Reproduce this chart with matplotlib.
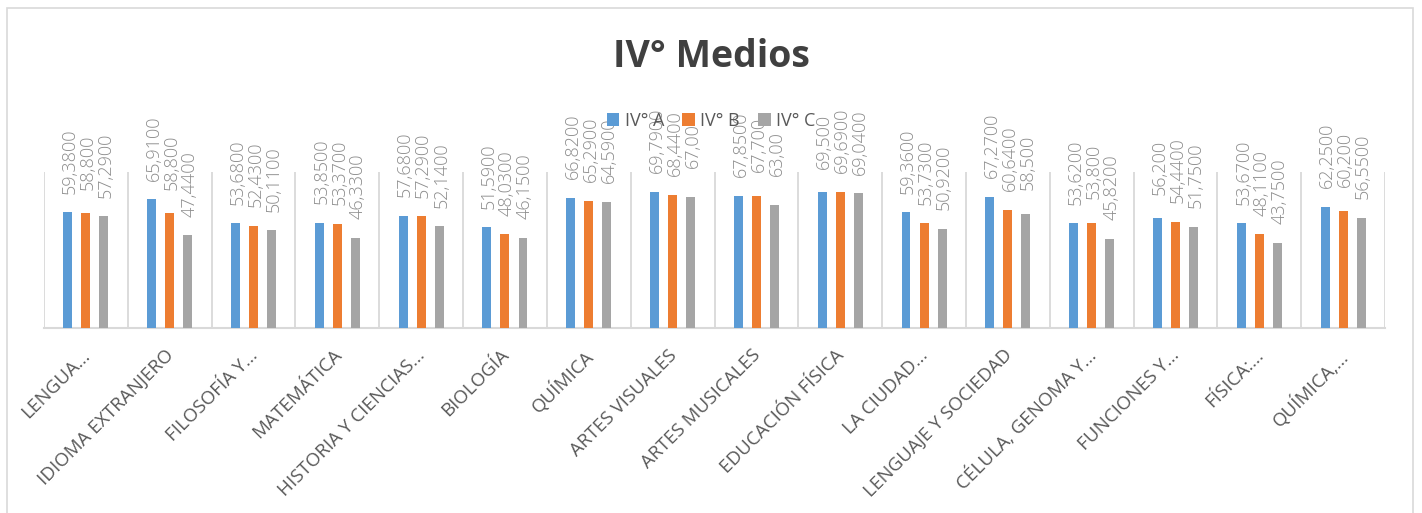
import numpy as np
import matplotlib
matplotlib.use("Agg")
import matplotlib.pyplot as plt
import matplotlib.transforms as mtransforms
from matplotlib.patches import Rectangle

# Data
subjects = [
    "LENGUA...", "IDIOMA EXTRANJERO", "FILOSOFÍA Y...", "MATEMÁTICA",
    "HISTORIA Y CIENCIAS...", "BIOLOGÍA", "QUÍMICA", "ARTES VISUALES",
    "ARTES MUSICALES", "EDUCACIÓN FÍSICA", "LA CIUDAD...", "LENGUAJE Y SOCIEDAD",
    "CÉLULA, GENOMA Y...", "FUNCIONES Y...", "FÍSICA:...", "QUÍMICA,...",
]
series_names = ["IV° A", "IV° B", "IV° C"]

iv_a = [59.38, 65.91, 53.68, 53.85, 57.68, 51.59, 66.82, 69.79,
        67.85, 69.50, 59.36, 67.27, 53.62, 56.20, 53.67, 62.25]
iv_b = [58.80, 58.80, 52.43, 53.37, 57.29, 48.03, 65.29, 68.44,
        67.70, 69.69, 53.73, 60.64, 53.80, 54.44, 48.11, 60.20]
iv_c = [57.29, 47.44, 50.11, 46.33, 52.14, 46.15, 64.59, 67.00,
        63.00, 69.04, 50.92, 58.50, 45.82, 51.75, 43.75, 56.55]

# data labels exactly as printed on the chart
labels_a = ["59,3800", "65,9100", "53,6800", "53,8500", "57,6800", "51,5900", "66,8200", "69,7900",
            "67,8500", "69,500", "59,3600", "67,2700", "53,6200", "56,200", "53,6700", "62,2500"]
labels_b = ["58,800", "58,800", "52,4300", "53,3700", "57,2900", "48,0300", "65,2900", "68,4400",
            "67,700", "69,6900", "53,7300", "60,6400", "53,800", "54,4400", "48,1100", "60,200"]
labels_c = ["57,2900", "47,4400", "50,1100", "46,3300", "52,1400", "46,1500", "64,5900", "67,00",
            "63,00", "69,0400", "50,9200", "58,500", "45,8200", "51,7500", "43,7500", "56,5500"]

colors = ["#5b9bd5", "#ed7d31", "#a5a5a5"]

plt.rcParams['font.family'] = ['Open Sans', 'DejaVu Sans']

fig = plt.figure(figsize=(14.22, 5.13), dpi=100)
ax = fig.add_axes([44 / 1422, 1 - 328 / 513, (1385 - 44) / 1422, (328 - 172) / 513])

# chart border
fig.patches.append(Rectangle((7 / 1422, -0.05), 1406 / 1422, 1.05 - 8 / 513,
                             transform=fig.transFigure, fill=False,
                             edgecolor="#d9d9d9", linewidth=1.2))

x = np.arange(len(subjects))
width = 0.107
offset = 0.215
all_vals = [iv_a, iv_b, iv_c]
all_labels = [labels_a, labels_b, labels_c]
for i, (vals, labs) in enumerate(zip(all_vals, all_labels)):
    pos = x + (i - 1) * offset
    ax.bar(pos, vals, width, color=colors[i], label=series_names[i], zorder=3)
    for px, v, s in zip(pos, vals, labs):
        ax.annotate(s, (px, v), xytext=(1.5, 37), textcoords="offset points",
                    rotation=90, ha="center", va="center", fontsize=13,
                    fontweight="light", color="#8c8c8c",
                    annotation_clip=False, zorder=4)

ax.set_xlim(-0.5, len(subjects) - 0.5)
ax.set_ylim(0, 80)

# category separators
for b in np.arange(-0.5, len(subjects) + 0.5, 1):
    ax.axvline(b, color="#d9d9d9", linewidth=1.3, zorder=1)

for sp in ["top", "right", "left"]:
    ax.spines[sp].set_visible(False)
ax.spines["bottom"].set_color("#d9d9d9")
ax.spines["bottom"].set_linewidth(1.5)
ax.set_yticks([])
ax.set_xticks(x)
ax.set_xticklabels(subjects, rotation=45, ha="right", rotation_mode="anchor",
                   fontsize=13.5, color="#595959")
ax.tick_params(axis="x", length=0, pad=13)
# nudge tick labels slightly left
shift = mtransforms.ScaledTranslation(-5 / 100, 0, fig.dpi_scale_trans)
for lbl in ax.get_xticklabels():
    lbl.set_transform(lbl.get_transform() + shift)

fig.text(0.5, 1 - 57 / 513, "IV° Medios", ha="center", va="center",
         fontsize=27, fontweight="bold", color="#404040")

fig.legend(loc="center", bbox_to_anchor=(0.5, 1 - 121 / 513), ncol=3, frameon=False,
           fontsize=13, handlelength=0.7, handleheight=0.7, handletextpad=0.3,
           columnspacing=1.0, labelcolor="#595959")

fig.savefig("out.png", dpi=100)
